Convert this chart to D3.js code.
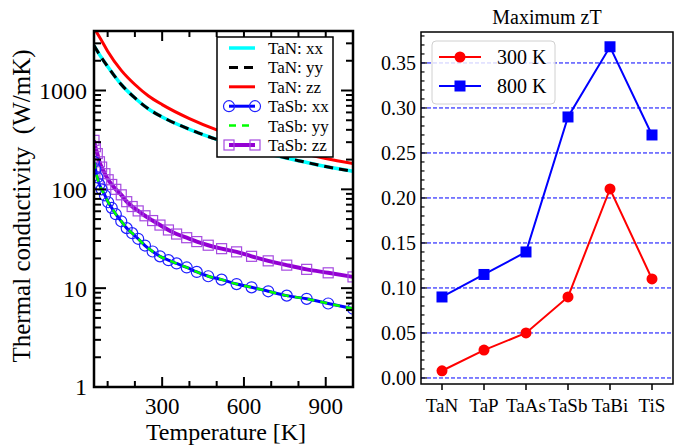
<!DOCTYPE html>
<html>
<head>
<meta charset="utf-8">
<script src="https://cdn.jsdelivr.net/npm/d3@7"></script>
<style>
body { margin: 0; background: #fff; }
svg { font-family: "Liberation Serif", "Times New Roman", serif; }
</style>
</head>
<body>
<div id="chart"></div>
<script>
// Left panel: thermal conductivity vs temperature
var tanT = [50, 75, 100, 150, 200, 250, 300, 400, 500, 600, 700, 800, 900, 1000];
var tanXX = [2850, 2200, 1750, 1150, 840, 650, 540, 405, 320, 265, 225, 195, 170, 152];
var tanYY = [2850, 2200, 1750, 1150, 840, 650, 540, 405, 320, 265, 225, 195, 170, 152];
var tanZZ = [4300, 3300, 2500, 1600, 1150, 880, 720, 520, 400, 325, 275, 235, 205, 182];

var tasbT = [50, 55, 62, 70, 78, 90, 102, 115, 130, 150, 170, 190, 212, 237, 265, 292, 323, 353, 390, 427, 469, 518, 573, 628, 689, 757, 830, 909, 1000];
var tasbXX = [190, 160, 132, 112, 100, 87, 74, 65, 56, 47.5, 40.5, 36, 31.6, 27, 23.5, 21, 19.2, 17.8, 16.2, 14.6, 13.2, 12.2, 11.0, 10.2, 9.3, 8.4, 7.8, 7.0, 6.2];
var tasbYY = [190, 160, 132, 112, 100, 87, 74, 65, 56, 47.5, 40.5, 36, 31.6, 27, 23.5, 21, 19.2, 17.8, 16.2, 14.6, 13.2, 12.2, 11.0, 10.2, 9.3, 8.4, 7.8, 7.0, 6.2];
var tasbZZ = [313, 270, 230, 190, 168, 144, 125, 112, 100, 88, 75, 67, 60.5, 54, 48.3, 43.5, 38.8, 35.3, 32.4, 29.6, 27.2, 25.1, 23.3, 21, 18.9, 17.1, 15.5, 14.3, 13.0];

var xMajor = [300, 600, 900];
var yMajor = [1, 10, 100, 1000];

// Right panel: maximum zT
var compounds = ["TaN", "TaP", "TaAs", "TaSb", "TaBi", "TiS"];
var zt300 = [0.008, 0.031, 0.05, 0.09, 0.21, 0.11];
var zt800 = [0.09, 0.115, 0.14, 0.29, 0.368, 0.27];
var ztTicks = [0.00, 0.05, 0.10, 0.15, 0.20, 0.25, 0.30, 0.35];

var W = 681, H = 445;
var svg = d3.select("#chart").append("svg").attr("width", W).attr("height", H);

// ---------- left panel ----------
var L = {x0: 94, x1: 353, y0: 31, y1: 387};
var x = d3.scaleLinear().domain([50, 1000]).range([L.x0, L.x1]);
var y = d3.scaleLog().domain([1, 4000]).range([L.y1, L.y0]);

svg.append("clipPath").attr("id", "clipL")
  .append("rect").attr("x", L.x0).attr("y", L.y0).attr("width", L.x1 - L.x0).attr("height", L.y1 - L.y0);

var gL = svg.append("g");
var plotL = gL.append("g").attr("clip-path", "url(#clipL)");

function drawLine(g, ts, vs, color, width, dash) {
  var pts = ts.map(function(t, i) { return [t, vs[i]]; });
  var line = d3.line().x(function(d) { return x(d[0]); }).y(function(d) { return y(d[1]); })
    .curve(d3.curveMonotoneX);
  var p = g.append("path").datum(pts).attr("d", line)
    .attr("fill", "none").attr("stroke", color).attr("stroke-width", width);
  if (dash) p.attr("stroke-dasharray", dash);
}

drawLine(plotL, tanT, tanXX, "#00ffff", 3.5);
drawLine(plotL, tanT, tanYY, "#000000", 3, "9,6");
drawLine(plotL, tanT, tanZZ, "#ff0000", 3);

drawLine(plotL, tasbT, tasbZZ, "#9400d3", 4);
plotL.selectAll("rect.sq").data(tasbT).enter().append("rect")
  .attr("class", "sq")
  .attr("x", function(d) { return x(d) - 5; })
  .attr("y", function(d, i) { return y(tasbZZ[i]) - 5; })
  .attr("width", 10).attr("height", 10)
  .attr("fill", "none").attr("stroke", "#a64ae0").attr("stroke-width", 1.2);

drawLine(plotL, tasbT, tasbXX, "#0000ff", 3);
plotL.selectAll("circle.ci").data(tasbT).enter().append("circle")
  .attr("class", "ci")
  .attr("cx", function(d) { return x(d); })
  .attr("cy", function(d, i) { return y(tasbXX[i]); })
  .attr("r", 5.5)
  .attr("fill", "none").attr("stroke", "#2020ff").attr("stroke-width", 1.2);
drawLine(plotL, tasbT, tasbYY, "#00ff00", 2.5, "7,6");

// ticks
var tickG = gL.append("g").attr("stroke", "#000").attr("stroke-width", 2);
var xMinor = d3.range(100, 1001, 100);
xMinor.forEach(function(v) {
  var len = xMajor.indexOf(v) >= 0 ? 10 : 6;
  tickG.append("line").attr("x1", x(v)).attr("x2", x(v)).attr("y1", L.y1).attr("y2", L.y1 - len);
  tickG.append("line").attr("x1", x(v)).attr("x2", x(v)).attr("y1", L.y0).attr("y2", L.y0 + len);
});
var yMinor = [];
[1, 10, 100, 1000].forEach(function(b) {
  for (var k = 1; k < 10; k++) { if (b * k <= 4000) yMinor.push(b * k); }
});
yMinor.forEach(function(v) {
  var len = yMajor.indexOf(v) >= 0 ? 12 : 7;
  tickG.append("line").attr("x1", L.x0).attr("x2", L.x0 + len).attr("y1", y(v)).attr("y2", y(v));
  tickG.append("line").attr("x1", L.x1).attr("x2", L.x1 - len).attr("y1", y(v)).attr("y2", y(v));
});

gL.append("rect").attr("x", L.x0).attr("y", L.y0).attr("width", L.x1 - L.x0).attr("height", L.y1 - L.y0)
  .attr("fill", "none").attr("stroke", "#000").attr("stroke-width", 2.5);

gL.selectAll("text.yt").data(yMajor).enter().append("text")
  .attr("x", L.x0 - 7).attr("y", function(d) { return y(d); })
  .attr("dy", "0.35em").attr("text-anchor", "end").attr("font-size", 24)
  .text(function(d) { return d; });
gL.selectAll("text.xt").data(xMajor).enter().append("text")
  .attr("x", function(d) { return x(d); }).attr("y", 414)
  .attr("text-anchor", "middle").attr("font-size", 23)
  .text(function(d) { return d; });

gL.append("text").attr("x", 226).attr("y", 440).attr("text-anchor", "middle")
  .attr("font-size", 24).text("Temperature [K]");
gL.append("text").attr("transform", "translate(30,206) rotate(-90)").attr("text-anchor", "middle")
  .attr("font-size", 25).attr("xml:space", "preserve").text("Thermal conductivity  (W/mK)");

// legend (left)
var legL = gL.append("g");
legL.append("rect").attr("x", 217).attr("y", 37).attr("width", 116).attr("height", 120)
  .attr("fill", "#fff").attr("stroke", "#000").attr("stroke-width", 1.5);
var legItems = [
  {name: "TaN: xx", color: "#00ffff", w: 3.5},
  {name: "TaN: yy", color: "#000", w: 3, dash: "9,6"},
  {name: "TaN: zz", color: "#ff0000", w: 3},
  {name: "TaSb: xx", color: "#0000ff", w: 3, mark: "circle"},
  {name: "TaSb: yy", color: "#00ff00", w: 2.5, dash: "7,6"},
  {name: "TaSb: zz", color: "#9400d3", w: 4, mark: "square"}
];
legItems.forEach(function(it, i) {
  var ly = 48 + i * 19.4;
  var ln = legL.append("line").attr("x1", 229).attr("x2", 255).attr("y1", ly).attr("y2", ly)
    .attr("stroke", it.color).attr("stroke-width", it.w);
  if (it.dash) ln.attr("stroke-dasharray", it.dash);
  [229, 255].forEach(function(mx) {
    if (it.mark === "circle") {
      legL.append("circle").attr("cx", mx).attr("cy", ly).attr("r", 5.5)
        .attr("fill", "none").attr("stroke", "#2020ff").attr("stroke-width", 1.2);
    } else if (it.mark === "square") {
      legL.append("rect").attr("x", mx - 5).attr("y", ly - 5).attr("width", 10).attr("height", 10)
        .attr("fill", "none").attr("stroke", "#a64ae0").attr("stroke-width", 1.2);
    }
  });
  legL.append("text").attr("x", 268).attr("y", ly).attr("dy", "0.35em")
    .attr("font-size", 17).text(it.name);
});

// ---------- right panel ----------
var R = {x0: 421, x1: 673, y0: 32, y1: 384};
var xr = d3.scaleLinear().domain([-0.5, 5.5]).range([R.x0, R.x1]);
var yr = d3.scaleLinear().domain([-0.0067, 0.3844]).range([R.y1, R.y0]);
var gR = svg.append("g");

gR.selectAll("line.grid").data(ztTicks).enter().append("line")
  .attr("x1", R.x0).attr("x2", R.x1)
  .attr("y1", function(d) { return yr(d); }).attr("y2", function(d) { return yr(d); })
  .attr("stroke", "#0000ff").attr("stroke-width", 1).attr("stroke-dasharray", "4,2");

var lineR = function(vals) {
  return d3.line().x(function(d, i) { return xr(i); }).y(function(d) { return yr(d); })(vals);
};
gR.append("path").attr("d", lineR(zt300)).attr("fill", "none").attr("stroke", "#ff0000").attr("stroke-width", 2);
gR.append("path").attr("d", lineR(zt800)).attr("fill", "none").attr("stroke", "#0000ff").attr("stroke-width", 2);
gR.selectAll("circle.m3").data(zt300).enter().append("circle")
  .attr("cx", function(d, i) { return xr(i); }).attr("cy", function(d) { return yr(d); })
  .attr("r", 5.5).attr("fill", "#ff0000");
gR.selectAll("rect.m8").data(zt800).enter().append("rect")
  .attr("x", function(d, i) { return xr(i) - 5.5; }).attr("y", function(d) { return yr(d) - 5.5; })
  .attr("width", 11).attr("height", 11).attr("fill", "#0000ff");

// y ticks
var yrMinor = d3.range(0, 0.381, 0.01);
yrMinor.forEach(function(v, i) {
  var len = (i % 5 === 0) ? 6 : 3.5;
  gR.append("line").attr("x1", R.x0).attr("x2", R.x0 + len).attr("y1", yr(v)).attr("y2", yr(v))
    .attr("stroke", "#000").attr("stroke-width", 1.2);
});
compounds.forEach(function(c, i) {
  gR.append("line").attr("x1", xr(i)).attr("x2", xr(i)).attr("y1", R.y1).attr("y2", R.y1 + 6)
    .attr("stroke", "#000").attr("stroke-width", 1.5);
});
gR.append("rect").attr("x", R.x0).attr("y", R.y0).attr("width", R.x1 - R.x0).attr("height", R.y1 - R.y0)
  .attr("fill", "none").attr("stroke", "#000").attr("stroke-width", 1.5);

gR.selectAll("text.yt").data(ztTicks).enter().append("text")
  .attr("x", R.x0 - 5).attr("y", function(d) { return yr(d); }).attr("dy", "0.35em")
  .attr("text-anchor", "end").attr("font-size", 20)
  .text(function(d) { return d.toFixed(2); });
gR.selectAll("text.xt").data(compounds).enter().append("text")
  .attr("x", function(d, i) { return xr(i); }).attr("y", R.y1 + 28)
  .attr("text-anchor", "middle").attr("font-size", 19)
  .text(function(d) { return d; });

gR.append("text").attr("x", 547).attr("y", 24).attr("text-anchor", "middle")
  .attr("font-size", 20).text("Maximum zT");

// legend (right)
var legR = gR.append("g");
legR.append("rect").attr("x", 432).attr("y", 41).attr("width", 123).attr("height", 63).attr("rx", 4)
  .attr("fill", "#fff").attr("fill-opacity", 0.8).attr("stroke", "#d0d0d0").attr("stroke-width", 1);
legR.append("line").attr("x1", 439).attr("x2", 481).attr("y1", 57).attr("y2", 57)
  .attr("stroke", "#ff0000").attr("stroke-width", 2);
legR.append("circle").attr("cx", 460).attr("cy", 57).attr("r", 5.5).attr("fill", "#ff0000");
legR.append("text").attr("x", 497).attr("y", 57).attr("dy", "0.35em").attr("font-size", 20).text("300 K");
legR.append("line").attr("x1", 439).attr("x2", 481).attr("y1", 86).attr("y2", 86)
  .attr("stroke", "#0000ff").attr("stroke-width", 2);
legR.append("rect").attr("x", 454.5).attr("y", 80.5).attr("width", 11).attr("height", 11).attr("fill", "#0000ff");
legR.append("text").attr("x", 497).attr("y", 86).attr("dy", "0.35em").attr("font-size", 20).text("800 K");
</script>
</body>
</html>
